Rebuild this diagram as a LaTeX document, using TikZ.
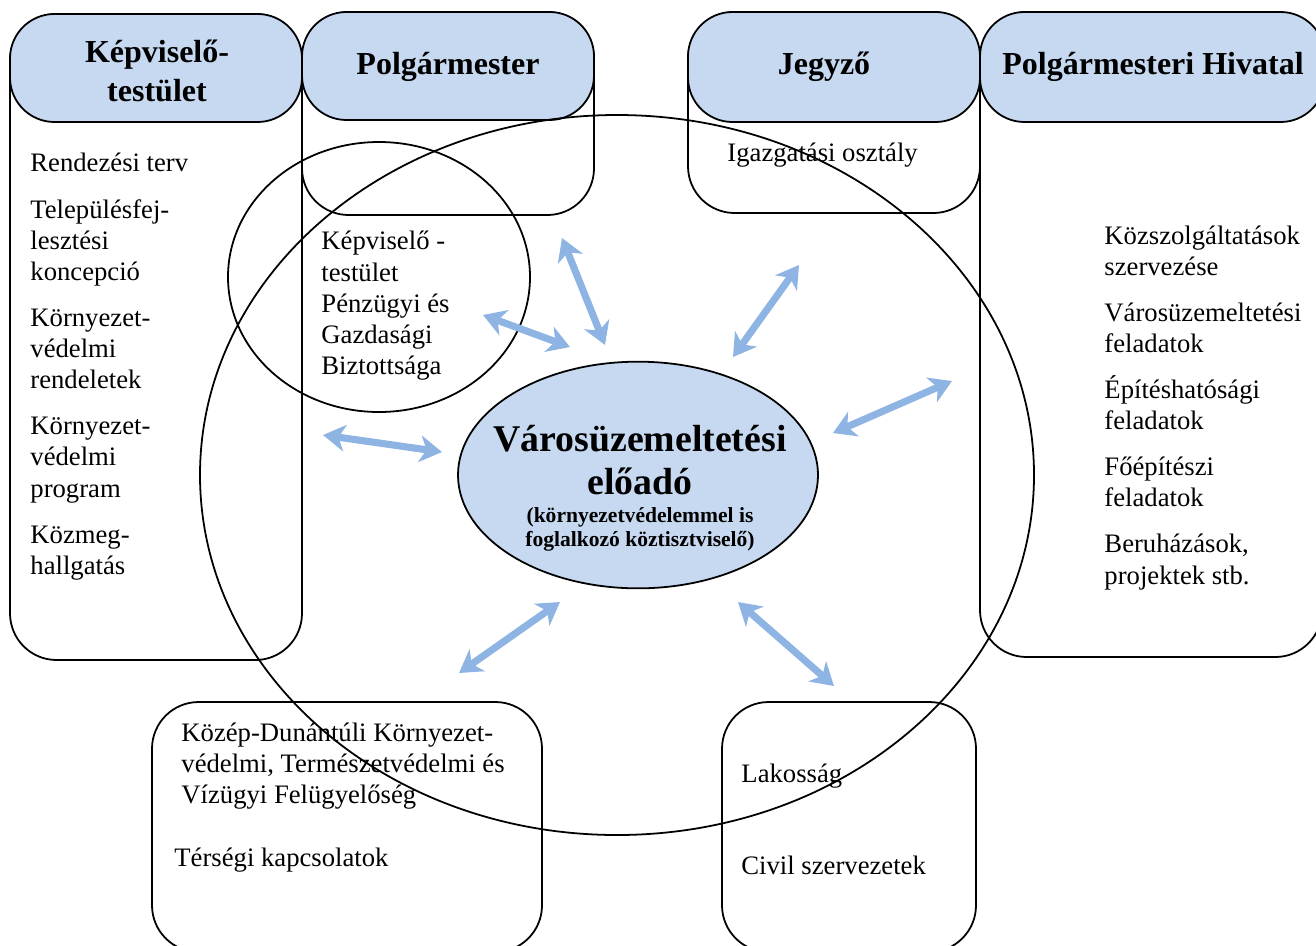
\documentclass[tikz,border=0pt]{standalone}
\usepackage{fontspec}
\setmainfont{Liberation Serif}
\usetikzlibrary{arrows.meta,shapes.geometric,positioning}
\definecolor{hdrblue}{HTML}{C6D9F1}
\definecolor{arrblue}{HTML}{8EB4E3}

\begin{document}
\begin{tikzpicture}[x=0.45pt, y=-0.45pt,
    box/.style={draw, line width=0.8pt, rounded corners=21pt},
    hdr/.style={draw, line width=0.8pt, fill=hdrblue, rounded corners=20pt},
    ring/.style={draw, line width=0.8pt},
    ttl/.style={font=\fontsize{14.4}{17.5}\selectfont\bfseries, align=center, inner sep=0pt},
    txt/.style={font=\fontsize{12}{14}\selectfont, align=left, inner sep=0pt, anchor=north west},
    cen/.style={ellipse, draw, line width=0.8pt, fill=hdrblue, minimum width=162pt, minimum height=102pt},
    arr/.style={{Stealth[length=10pt,width=12pt,inset=3pt]}-{Stealth[length=10pt,width=12pt,inset=3pt]}, line width=3.2pt, arrblue}
]
\useasboundingbox (0,0) rectangle (1316,945);
\clip (0,0) rectangle (1316,945);

% keretek
\draw[box] (10,14) rectangle (302,660);
\draw[box] (302,12) rectangle (594,215);
\draw[box] (688,12) rectangle (980,213);
\draw[box] (980,12) rectangle (1322,657);
\draw[box] (152,702) rectangle (542,952);
\draw[box] (722,702) rectangle (976,952);

% fejlecek
\draw[hdr] (10,14) rectangle (302,122);
\draw[hdr] (302,12) rectangle (594,120);
\draw[hdr] (688,12) rectangle (980,122);
\draw[hdr] (980,12) rectangle (1325,122);

\node[ttl] (kt) at (157,71) {Képviselő-\\testület};
\node[ttl] (pm) at (448,67) {Polgármester};
\node[ttl] (jz) at (824,67) {Jegyző};
\node[ttl] (ph) at (1153,67) {Polgármesteri Hivatal};

% korok
\draw[ring] (617,475) ellipse [x radius=417, y radius=360];
\draw[ring] (379,277) ellipse [x radius=151, y radius=135];

\node[cen] (eloado) at (638,475) {};
\node[font=\fontsize{17}{19.4}\selectfont\bfseries, align=center, inner sep=0pt] (eloadocim) at (640,460) {Városüzemeltetési\\előadó};
\node[font=\fontsize{9.7}{10.8}\selectfont\bfseries, align=center, inner sep=0pt] (eloadomegj) at (640,529) {(környezetvédelemmel is\\foglalkozó köztisztviselő)};

% szovegek
\node[txt] (ktlista) at (30,153) {Rendezési terv\\[6.75pt]
  Településfej-\\lesztési\\koncepció\\[6.75pt]
  Környezet-\\védelmi\\rendeletek\\[6.75pt]
  Környezet-\\védelmi\\program\\[6.75pt]
  Közmeg-\\hallgatás};
\node[txt] (pgb) at (321,231) {Képviselő -\\testület\\Pénzügyi és\\Gazdasági\\Biztottsága};
\node[txt] (igo) at (727,143) {Igazgatási osztály};
\node[txt] (phlista) at (1104,225) {Közszolgáltatások\\szervezése\\[6.75pt]
  Városüzemeltetési\\feladatok\\[6.75pt]
  Építéshatósági\\feladatok\\[6.75pt]
  Főépítészi\\feladatok\\[6.75pt]
  Beruházások,\\projektek stb.};
\node[txt] (kdt) at (181,722) {Közép-Dunántúli Környezet-\\védelmi, Természetvédelmi és\\Vízügyi Felügyelőség};
\node[txt] (tk) at (174,847) {Térségi kapcsolatok};
\node[txt] (lak) at (741,763) {Lakosság};
\node[txt] (civ) at (741,856) {Civil szervezetek};

% nyilak
\coordinate (a1) at (323,435); \coordinate (b1) at (442,452);
\coordinate (a2) at (483,315); \coordinate (b2) at (570,347);
\coordinate (a3) at (562,238); \coordinate (b3) at (605,345);
\coordinate (a4) at (733,357); \coordinate (b4) at (799,265);
\coordinate (a5) at (833,433); \coordinate (b5) at (952,381);
\coordinate (a6) at (459,673); \coordinate (b6) at (560,602);
\coordinate (a7) at (738,602); \coordinate (b7) at (834,686);
\draw[arr] (a1) -- (b1);
\draw[arr] (a2) -- (b2);
\draw[arr] (a3) -- (b3);
\draw[arr] (a4) -- (b4);
\draw[arr] (a5) -- (b5);
\draw[arr] (a6) -- (b6);
\draw[arr] (a7) -- (b7);
\end{tikzpicture}
\end{document}
